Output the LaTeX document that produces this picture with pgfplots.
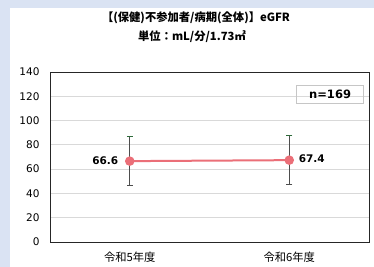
\documentclass[border=0pt]{standalone}
\usepackage{pgfplots}
\pgfplotsset{compat=1.18}
\usepackage{fontspec}
\setmainfont{DejaVu Sans}
\newfontfamily\cjk{Noto Sans CJK JP}
\definecolor{bgblue}{HTML}{DAE3F3}
\definecolor{linered}{HTML}{EB6F78}
\definecolor{gridgray}{HTML}{D9D9D9}
\definecolor{errgray}{HTML}{4D4D4D}
\definecolor{capgreen}{HTML}{2E6B3A}
\begin{document}
\begin{tikzpicture}[x=1pt,y=1pt]
\path[fill=bgblue] (0,0) rectangle (374,267);
\path[fill=white] (10,0) rectangle (374,259);
\node[font=\cjk\bfseries\fontsize{11.3}{13}\selectfont] at (196,249) {【(保健)不参加者/病期(全体)】eGFR};
\node[font=\cjk\bfseries\fontsize{11.3}{13}\selectfont] at (192,230) {単位：mL/分/1.73㎡};
\begin{axis}[
  at={(50pt,25pt)}, anchor=south west,
  scale only axis, width=319pt, height=170pt,
  xmin=-0.5, xmax=1.5, ymin=0, ymax=140,
  xtick={0,1}, xticklabels={令和5年度,令和6年度},
  x tick label style={font=\cjk\fontsize{11.3}{13}\selectfont, yshift=-6pt},
  ytick={0,20,...,140},
  y tick label style={font=\fontsize{10.5}{12}\selectfont, xshift=-7pt},
  /pgf/number format/assume math mode=true,
  ymajorgrids, grid style={gridgray, line width=0.8pt},
  major tick length=0pt,
  axis line style={black!85, line width=0.8pt},
  clip=false,
]
\addplot[errgray, line width=0.9pt, mark=none, draw=none,
  error bars/.cd, y dir=both, y explicit,
  error bar style={errgray, line width=0.9pt},
  error mark options={errgray, line width=0.9pt, mark size=3pt, rotate=90}]
  table[x=x, y=y, y error plus=ep, y error minus=em] {
x y ep em
0 66.6 20.4 19.8
1 67.4 20.6 20.0
};
\addplot[only marks, mark=-, mark size=3pt, mark options={capgreen, line width=1pt}]
  coordinates {(0,87.0) (1,88.0)};
\addplot[linered, line width=2pt, mark=*, mark size=3.7pt, mark options={fill=linered, draw=linered}]
  coordinates {(0,66.6) (1,67.4)};
\addplot[draw=none, mark=none, nodes near coords, point meta=explicit symbolic,
  nodes near coords style={anchor=east, font=\bfseries\fontsize{10.5}{12}\selectfont, xshift=-8pt}]
  coordinates {(0,66.6) [66.6]};
\addplot[draw=none, mark=none, nodes near coords, point meta=explicit symbolic,
  nodes near coords style={anchor=west, font=\bfseries\fontsize{10.5}{12}\selectfont, xshift=6pt, yshift=1pt}]
  coordinates {(1,67.4) [67.4]};
\node[draw=gray!45, line width=0.8pt, minimum width=67pt, minimum height=18pt, font=\bfseries\fontsize{11.5}{12}\selectfont]
  at (rel axis cs:0.878,0.87) {n=169};
\end{axis}
\end{tikzpicture}
\end{document}
